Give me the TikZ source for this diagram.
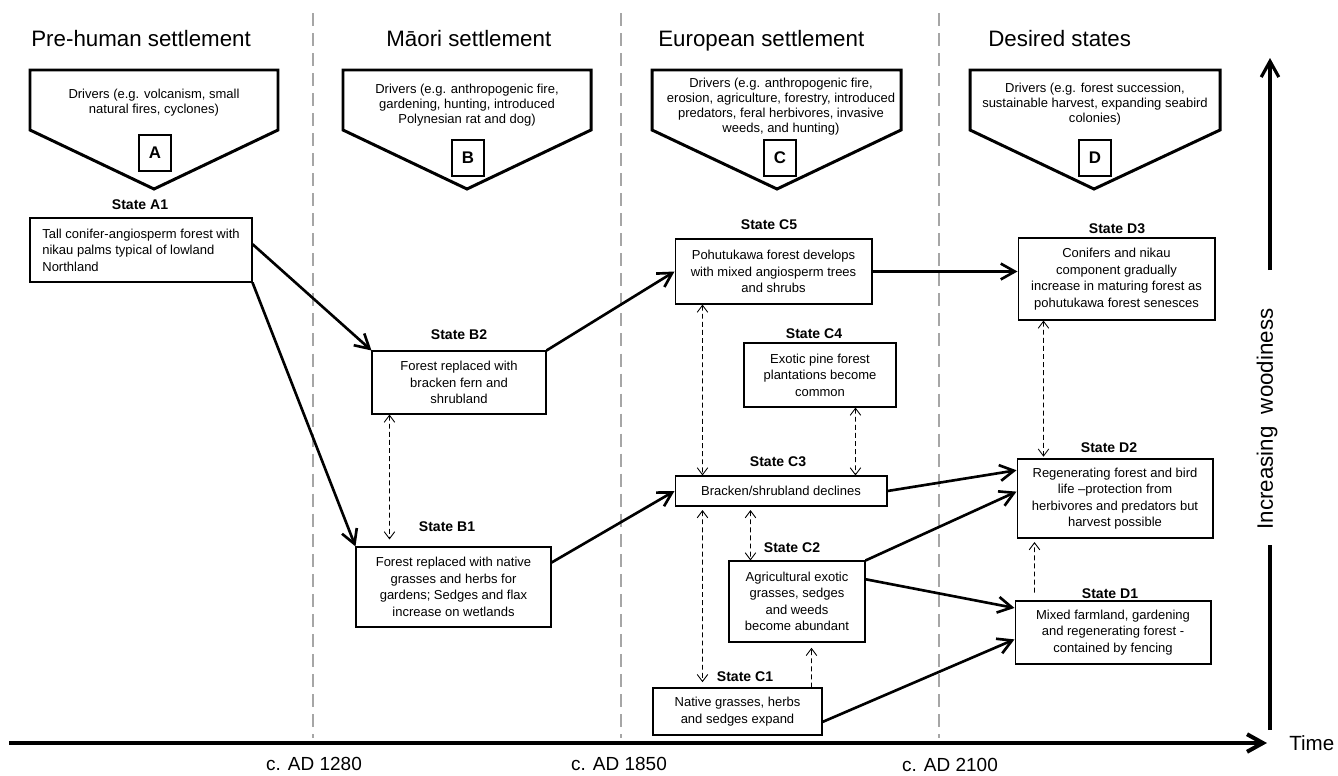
\documentclass[tikz,border=0pt]{standalone}
\usepackage{fontspec}
\setmainfont{Liberation Sans}
\usetikzlibrary{arrows.meta}

\begin{document}
\begin{tikzpicture}[x=0.02cm, y=-0.02cm,
    statebox/.style={draw, line width=0.6pt, align=center, inner sep=0pt, font=\fontsize{7.4}{9.4}\selectfont},
    statelabel/.style={font=\fontsize{8}{9.6}\selectfont\bfseries},
    drivers/.style={align=center, font=\fontsize{7.4}{8.5}\selectfont},
    driverhull/.style={line width=1.7pt, line join=miter},
    letterbox/.style={draw, line width=0.6pt, minimum width=0.64cm, minimum height=0.72cm, inner sep=0pt, font=\fontsize{9.6}{11}\selectfont\bfseries},
    period/.style={anchor=base west, inner sep=0pt, font=\fontsize{12.7}{15}\selectfont},
    datelabel/.style={anchor=base, font=\fontsize{10.8}{13}\selectfont},
    divider/.style={black!35, line width=0.9pt, dash pattern=on 7.4pt off 4pt},
    change/.style={-{Straight Barb[length=8pt,width=9pt]}, line width=1.5pt},
    mutual/.style={dash pattern=on 2.8pt off 1.8pt, line width=0.5pt, {Straight Barb[length=4pt,width=6pt]}-{Straight Barb[length=4pt,width=6pt]}},
    oneway/.style={dash pattern=on 2.8pt off 1.8pt, line width=0.5pt, -{Straight Barb[length=4pt,width=6pt]}},
    axis/.style={line width=1.8pt},
  ]
    \useasboundingbox (0,0) rectangle (1338,775);

    % Period dividers
    \draw[divider] (313,13) -- (313,738);
    \draw[divider] (621,13) -- (621,738);
    \draw[divider] (939,13) -- (939,738);

    % Period titles
    \node[period] (tPre) at (31,46) {Pre-human settlement};
    \node[period] (tMaori) at (386,46) {Māori settlement};
    \node[period] (tEuro) at (658,46) {European settlement};
    \node[period] (tDesired) at (988,46) {Desired states};

    % Driver boxes
    \draw[driverhull] (30,70) -- (278,70) -- (278,130) -- (154,189) -- (30,130) -- cycle;
    \node[drivers] (drvA) at (154,103) {Drivers (e.g. volcanism, small\\natural fires, cyclones)};
    \node[letterbox] (boxA) at (155,153) {A};

    \draw[driverhull] (343,70) -- (591,70) -- (591,130) -- (467,189) -- (343,130) -- cycle;
    \node[drivers] (drvB) at (467,105) {Drivers (e.g. anthropogenic fire,\\gardening, hunting, introduced\\Polynesian rat and dog)};
    \node[letterbox] (boxB) at (468,158) {B};

    \draw[driverhull] (652,70) -- (901,70) -- (901,130) -- (777,189) -- (652,130) -- cycle;
    \node[drivers] (drvC) at (781,107) {Drivers (e.g. anthropogenic fire,\\erosion, agriculture, forestry, introduced\\predators, feral herbivores, invasive\\weeds, and hunting)};
    \node[letterbox] (boxC) at (780,158) {C};

    \draw[driverhull] (970,70) -- (1220,70) -- (1220,130) -- (1094,189) -- (970,130) -- cycle;
    \node[drivers] (drvD) at (1095,104) {Drivers (e.g. forest succession,\\sustainable harvest, expanding seabird\\colonies)};
    \node[letterbox] (boxD) at (1095,158) {D};

    % Pre-human state
    \node[statelabel] (lA1) at (140,205) {State A1};
    \node[statebox, align=left, minimum width=4.44cm, minimum height=1.28cm] (A1) at (141,250) {Tall conifer-angiosperm forest with\\nikau palms typical of lowland\\Northland};

    % Maori states
    \node[statelabel] (lB2) at (459,335) {State B2};
    \node[statebox, minimum width=3.48cm, minimum height=1.26cm] (B2) at (459,382.5) {Forest replaced with\\bracken fern and\\shrubland};
    \node[statelabel] (lB1) at (447,527) {State B1};
    \node[statebox, minimum width=3.90cm, minimum height=1.60cm] (B1) at (453.5,587) {Forest replaced with native\\grasses and herbs for\\gardens; Sedges and flax\\increase on wetlands};

    % European states
    \node[statelabel] (lC5) at (769,225) {State C5};
    \node[statebox, minimum width=3.94cm, minimum height=1.30cm] (C5) at (773.5,271.5) {Pohutukawa forest develops\\with mixed angiosperm trees\\and shrubs};
    \node[statelabel] (lC4) at (814,334) {State C4};
    \node[statebox, minimum width=3.04cm, minimum height=1.28cm] (C4) at (820,375) {Exotic pine forest\\plantations become\\common};
    \node[statelabel] (lC3) at (778,462) {State C3};
    \node[statebox, minimum width=4.24cm, minimum height=0.60cm] (C3) at (781,491) {Bracken/shrubland declines};
    \node[statelabel] (lC2) at (792,548) {State C2};
    \node[statebox, minimum width=2.72cm, minimum height=1.62cm] (C2) at (797,601.5) {Agricultural exotic\\grasses, sedges\\and weeds\\become abundant};
    \node[statelabel] (lC1) at (745,677) {State C1};
    \node[statebox, minimum width=3.38cm, minimum height=0.94cm] (C1) at (737.5,711.5) {Native grasses, herbs\\and sedges expand};

    % Desired states
    \node[statelabel] (lD3) at (1117,229) {State D3};
    \node[statebox, minimum width=3.94cm, minimum height=1.64cm] (D3) at (1116.5,279) {Conifers and nikau\\component gradually\\increase in maturing forest as\\pohutukawa forest senesces};
    \node[statelabel] (lD2) at (1109,448) {State D2};
    \node[statebox, minimum width=3.92cm, minimum height=1.58cm] (D2) at (1115,498.5) {Regenerating forest and bird\\life –protection from\\herbivores and predators but\\harvest possible};
    \node[statelabel] (lD1) at (1110,594) {State D1};
    \node[statebox, minimum width=3.92cm, minimum height=1.26cm] (D1) at (1113,632.5) {Mixed farmland, gardening\\and regenerating forest -\\contained by fencing};

    % Transitions
    \draw[change] (A1.3) -- (B2.north west);
    \draw[change] (A1.south east) -- (B1.north west);
    \draw[change] (B2.north east) -- (C5.west);
    \draw[change] (B1.14) -- (C3.west);
    \draw[change] (C5.east) -- (C5.east -| D3.west);
    \draw[change] (C3.east) -- (D2.164);
    \draw[change] (C2.north east) -- (D2.176);
    \draw[change] (C2.18) -- (D1.166);
    \draw[change] (C1.353) -- (D1.184);

    % Reversible shifts
    \draw[mutual, shorten >=4pt] ([xshift=0.36cm]B2.south west) -- ([xshift=0.68cm]B1.north west);
    \draw[mutual] ([xshift=0.56cm]C5.south west) -- ([xshift=0.56cm]C3.north west);
    \draw[mutual] ([xshift=2.24cm]C4.south west) -- ([xshift=3.62cm]C3.north west);
    \draw[mutual, shorten <=2pt] ([xshift=1.52cm]C3.south west) -- ([xshift=0.44cm]C2.north west);
    \draw[mutual, shorten <=2pt, shorten >=3pt] ([xshift=0.56cm]C3.south west) -- ([xshift=1.00cm]C1.north west);
    \draw[oneway, shorten >=3pt] ([xshift=3.18cm]C1.north west) -- ([xshift=1.66cm]C2.south west);
    \draw[mutual, shorten >=1pt] ([xshift=0.52cm]D3.south west) -- ([xshift=0.54cm]D2.north west);
    \draw[oneway, shorten <=4.5pt, shorten >=2pt] ([xshift=0.40cm]D1.north west) -- ([xshift=0.36cm]D2.south west);

    % Time axis
    \coordinate (tStart) at (9,743);
    \coordinate (tEnd) at (1267,743);
    \draw[axis, line width=2.3pt, -{Straight Barb[length=9pt,width=10pt]}] (tStart) -- (tEnd);
    \node[anchor=west, inner sep=0pt, font=\fontsize{11.7}{14}\selectfont] (time) at (1289,743.5) {Time};
    \node[datelabel] (d1280) at (314,770) {c. AD 1280};
    \node[datelabel] (d1850) at (619,770) {c. AD 1850};
    \node[datelabel] (d2100) at (950,771) {c. AD 2100};

    % Woodiness axis
    \coordinate (wBottom) at (1270,730);
    \coordinate (wLow) at (1270,545);
    \coordinate (wHigh) at (1270,270);
    \coordinate (wTop) at (1270,58);
    \draw[axis] (wBottom) -- (wLow);
    \draw[axis, -{Straight Barb[length=9pt,width=10pt]}] (wHigh) -- (wTop);
    \node[rotate=90, font=\fontsize{12.7}{15}\selectfont] (wood) at (1267,419) {Increasing\ \ woodiness};
\end{tikzpicture}
\end{document}
